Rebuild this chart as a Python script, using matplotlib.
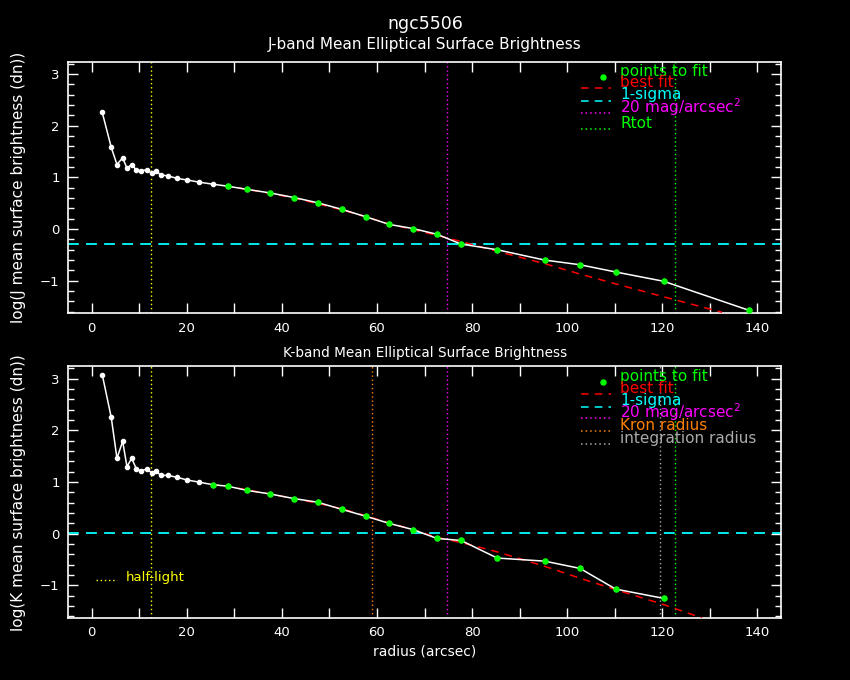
import matplotlib
matplotlib.use('Agg')
import matplotlib.pyplot as plt
from matplotlib.lines import Line2D
from matplotlib.ticker import MultipleLocator

# ---- data ----
radius = [2.2, 4.1, 5.3, 6.5, 7.4, 8.4, 9.4, 10.3, 11.6, 12.6, 13.6, 14.5, 16.0,
          18.0, 20.1, 22.5, 25.4, 28.6, 32.6, 37.5, 42.6, 47.5, 52.7, 57.6,
          62.6, 67.6, 72.6, 77.7, 85.3, 95.3, 102.7, 110.2, 120.3, 138.2]
sb_j = [2.26, 1.58, 1.25, 1.38, 1.18, 1.25, 1.14, 1.13, 1.15, 1.08, 1.12, 1.05,
        1.03, 0.98, 0.95, 0.91, 0.87, 0.83, 0.77, 0.70, 0.61, 0.51, 0.38, 0.24,
        0.09, 0.01, -0.10, -0.29, -0.40, -0.60, -0.69, -0.83, -1.01, -1.57]
sb_k = [3.08, 2.25, 1.46, 1.79, 1.30, 1.46, 1.25, 1.22, 1.25, 1.18, 1.21, 1.13,
        1.13, 1.09, 1.04, 1.00, 0.95, 0.92, 0.84, 0.77, 0.68, 0.61, 0.47, 0.34,
        0.20, 0.08, -0.09, -0.13, -0.47, -0.53, -0.67, -1.07, -1.25]
fit_start_j = 17
fit_start_k = 16

fit_r_j = [28.0, 32.6, 37.5, 42.6, 47.5, 52.7, 57.6, 62.6, 67.6, 72.6, 77.7,
           85.3, 95.3, 102.7, 110.2, 120.3, 132.6]
fit_j = [0.84, 0.77, 0.69, 0.60, 0.49, 0.37, 0.24, 0.10, -0.01, -0.12, -0.24,
         -0.43, -0.67, -0.87, -1.06, -1.31, -1.61]
fit_r_k = [25.0, 28.6, 32.6, 37.5, 42.6, 47.5, 52.7, 57.6, 62.6, 67.6, 72.6,
           77.7, 85.3, 95.3, 102.7, 110.2, 120.3, 128.4]
fit_k = [0.96, 0.92, 0.85, 0.77, 0.68, 0.59, 0.48, 0.35, 0.21, 0.08, -0.07,
         -0.17, -0.35, -0.63, -0.86, -1.08, -1.37, -1.63]

sigma_j = -0.29
sigma_k = 0.01
half_light = 12.5
mag20 = 74.8
rtot = 122.6
kron = 59.0
r_integ = 119.6

GREEN = '#00ff00'
RED = '#ff0000'
CYAN = '#00ffff'
MAGENTA = '#ff00ff'
ORANGE = '#ff8000'
GRAY = '#aaaaaa'
YELLOW = '#ffff00'

W, H = 850, 680
fig = plt.figure(figsize=(8.5, 6.8), dpi=100, facecolor='black')


def fx(px):
    return px / W


def fy(py):
    return 1 - py / H


def style_axes(ax):
    ax.set_facecolor('black')
    for s in ax.spines.values():
        s.set_color('white')
        s.set_linewidth(1.2)
    ax.set_xlim(-5, 145)
    ax.set_ylim(-1.63, 3.24)
    ax.xaxis.set_major_locator(MultipleLocator(20))
    ax.xaxis.set_minor_locator(MultipleLocator(10))
    ax.yaxis.set_major_locator(MultipleLocator(1))
    ax.yaxis.set_minor_locator(MultipleLocator(0.2))
    ax.tick_params(which='both', direction='in', top=True, right=True,
                   colors='white', width=1, labelsize=9.5, pad=6)
    ax.tick_params(which='major', length=7)
    ax.tick_params(axis='x', which='minor', length=7)
    ax.tick_params(axis='y', which='minor', length=4)


def draw_profile(ax, sb, fit_start, fr, fv, sigma):
    r = radius[:len(sb)]
    ax.axhline(sigma, color=CYAN, lw=1.3, dashes=(6, 4), zorder=2)
    ax.plot(fr, fv, color=RED, lw=1.1, dashes=(5, 4), zorder=3)
    ax.plot(r, sb, color='white', lw=1.1, marker='o', ms=3,
            mfc='white', mec='white', zorder=4)
    ax.plot(r[fit_start:], sb[fit_start:], 'o', color=GREEN, ms=3.6, zorder=5)


def legend_rows(rows, x_line=581, x_text=620):
    for kind, color, label, py in rows:
        if kind == 'pt':
            fig.add_artist(Line2D([fx(603)], [fy(py + 5)], marker='o', ms=3.6,
                                  color=color, transform=fig.transFigure))
        else:
            ls = {'dash': (0, (5, 4)), 'dot': (0, (1, 2))}[kind]
            fig.add_artist(Line2D([fx(x_line), fx(x_line + 30)], [fy(py + 6), fy(py + 6)],
                                  color=color, lw=1.1, linestyle=ls,
                                  transform=fig.transFigure))
        fig.text(fx(x_text), fy(py), label, color=color, fontsize=11,
                 ha='left', va='center')


ylab_x = -(68 - 26) / (781 - 68)

# ---- J band ----
ax1 = fig.add_axes([fx(68), fy(313.3), fx(781) - fx(68), (313.3 - 61.7) / H])
style_axes(ax1)
ax1.axvline(half_light, color=YELLOW, lw=1, ls=(0, (1, 2)), zorder=1)
ax1.axvline(mag20, color=MAGENTA, lw=1, ls=(0, (1, 2)), zorder=1)
ax1.axvline(rtot, color=GREEN, lw=1, ls=(0, (1, 2)), zorder=1)
draw_profile(ax1, sb_j, fit_start_j, fit_r_j, fit_j, sigma_j)
ax1.set_ylabel('log(J mean surface brightness (dn))', color='white', fontsize=11)
ax1.yaxis.set_label_coords(ylab_x, 0.5)

legend_rows([
    ('pt', GREEN, 'points to fit', 71.7),
    ('dash', RED, 'best fit', 82.3),
    ('dash', CYAN, '1-sigma', 95),
    ('dot', MAGENTA, '20 mag/arcsec$^2$', 106.7),
    ('dot', GREEN, 'Rtot', 123.3),
])

# ---- K band ----
ax2 = fig.add_axes([fx(68), fy(618), fx(781) - fx(68), (618 - 366.3) / H])
style_axes(ax2)
ax2.axvline(half_light, color=YELLOW, lw=1, ls=(0, (1, 2)), zorder=1)
ax2.axvline(kron, color=ORANGE, lw=1, ls=(0, (1, 2)), zorder=1)
ax2.axvline(mag20, color=MAGENTA, lw=1, ls=(0, (1, 2)), zorder=1)
ax2.axvline(r_integ, color=GRAY, lw=1, ls=(0, (1, 2)), zorder=1)
ax2.axvline(rtot, color=GREEN, lw=1, ls=(0, (1, 2)), zorder=1)
draw_profile(ax2, sb_k, fit_start_k, fit_r_k, fit_k, sigma_k)
ax2.set_ylabel('log(K mean surface brightness (dn))', color='white', fontsize=11)
ax2.yaxis.set_label_coords(ylab_x, 0.5)
ax2.set_xlabel('radius (arcsec)', color='white', fontsize=10)

legend_rows([
    ('pt', GREEN, 'points to fit', 376.7),
    ('dash', RED, 'best fit', 388.3),
    ('dash', CYAN, '1-sigma', 400.7),
    ('dot', MAGENTA, '20 mag/arcsec$^2$', 412.3),
    ('dot', ORANGE, 'Kron radius', 425),
    ('dot', GRAY, 'integration radius', 438.3),
])

# half-light legend entry inside lower panel
fig.add_artist(Line2D([fx(96), fx(117)], [fy(580), fy(580)], color=YELLOW, lw=1,
                      linestyle=(0, (1, 2)), transform=fig.transFigure))
fig.text(fx(126), fy(577), 'half-light', color=YELLOW, fontsize=9.5,
         ha='left', va='center')

# titles
fig.text(0.5, fy(24), 'ngc5506', color='white', fontsize=12.5, ha='center', va='center')
fig.text(0.5, fy(45), 'J-band Mean Elliptical Surface Brightness', color='white',
         fontsize=11, ha='center', va='center')
fig.text(0.5, fy(353), 'K-band Mean Elliptical Surface Brightness', color='white',
         fontsize=9.8, ha='center', va='center')

fig.savefig('out.png', dpi=100, facecolor='black')
